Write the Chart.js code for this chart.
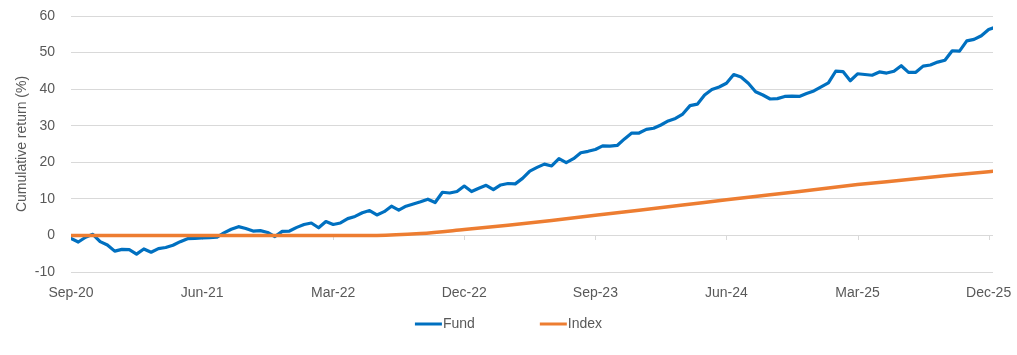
<!DOCTYPE html>
<html><head><meta charset="utf-8">
<script src="https://cdn.jsdelivr.net/npm/chart.js@4.4.1/dist/chart.umd.min.js"></script>
<style>html,body{margin:0;padding:0;background:#fff;} #wrap{width:1017px;height:355px;}</style>
</head><body><div id="wrap"><canvas id="c" width="1017" height="355"></canvas></div>
<script>
// ---- data ----
const xTickLabels = ['Sep-20','Jun-21','Mar-22','Dec-22','Sep-23','Jun-24','Mar-25','Dec-25'];
const xTickMonths = [0, 9, 18, 27, 36, 45, 54, 63];   // months since Sep-20
const yTicks = [-10, 0, 10, 20, 30, 40, 50, 60];
const seriesNames = ['Fund', 'Index'];
// Fund: cumulative return, one reading every half month starting Sep-20
const fundStepMonths = 0.5;
const fundValues = [
  -0.8, -1.8, -0.5, 0.3, -1.7, -2.6, -4.3, -3.8, -3.9, -5.1,
  -3.7, -4.6, -3.6, -3.3, -2.7, -1.7, -0.9, -0.8, -0.7, -0.6,
  -0.5, 0.7, 1.7, 2.4, 1.9, 1.2, 1.3, 0.8, -0.3, 1.1,
  1.2, 2.2, 3.0, 3.4, 2.1, 3.8, 3.0, 3.4, 4.6, 5.2,
  6.2, 6.8, 5.6, 6.5, 8.0, 6.9, 8.0, 8.6, 9.2, 9.9,
  9.0, 11.8, 11.6, 12.0, 13.5, 12.0, 12.9, 13.7, 12.5, 13.8,
  14.2, 14.1, 15.6, 17.6, 18.6, 19.5, 19.0, 21.0, 19.9, 21.0,
  22.6, 23.0, 23.5, 24.5, 24.4, 24.6, 26.4, 28.0, 28.0, 29.0,
  29.3, 30.2, 31.3, 32.0, 33.2, 35.5, 35.9, 38.4, 39.9, 40.6,
  41.6, 44.0, 43.3, 41.6, 39.3, 38.4, 37.3, 37.4, 38.0, 38.1,
  38.0, 38.8, 39.5, 40.6, 41.7, 44.9, 44.8, 42.3, 44.2, 44.0,
  43.8, 44.7, 44.4, 44.9, 46.4, 44.6, 44.6, 46.3, 46.6, 47.4,
  47.9, 50.5, 50.4, 53.2, 53.6, 54.6, 56.3, 57.0
];
// Index: smooth curve
const indexMonths = [0, 21, 24, 27, 30, 33, 36, 39, 42, 45, 48, 51, 54, 57, 60, 63, 63.5];
const indexValues = [0, 0, 0.5, 1.6, 2.8, 4.1, 5.5, 6.9, 8.3, 9.75, 11.1, 12.5, 13.9, 15.1, 16.3, 17.4, 17.6];

// ---- styling ----
const FONT = {family: '"Liberation Sans", Arial, sans-serif', size: 14};
const TEXT = '#595959';
const GRID = '#D9D9D9';
const CLEAR = 'rgba(0,0,0,0)';
const COLORS = ['#0070C0', '#ED7D31'];

const fundData = fundValues.map((v, i) => ({x: i * fundStepMonths, y: v}));
const indexData = indexMonths.map((m, i) => ({x: m, y: indexValues[i]}));

const zeroTicks = {
  id: 'zeroTicks',
  beforeDatasetsDraw(chart) {
    const {ctx, scales: {x, y}} = chart;
    const y0 = Math.round(y.getPixelForValue(0));
    ctx.save();
    ctx.strokeStyle = GRID; ctx.lineWidth = 1;
    xTickMonths.forEach(m => {
      const px = Math.round(x.getPixelForValue(m)) + 0.5;
      ctx.beginPath(); ctx.moveTo(px, y0); ctx.lineTo(px, y0 + 5); ctx.stroke();
    });
    ctx.restore();
  }
};

const customLegend = {
  id: 'customLegend',
  afterDraw(chart) {
    const {ctx} = chart;
    ctx.save();
    ctx.font = `${FONT.size}px ${FONT.family}`;
    const lineW = 27, textGap = 1, itemGap = 65;
    const ds = chart.data.datasets;
    const widths = ds.map(d => lineW + textGap + ctx.measureText(d.label).width);
    const total = widths.reduce((a, b) => a + b, 0) + itemGap * (ds.length - 1);
    let cx = chart.width / 2 - total / 2;
    const cy = chart.chartArea.bottom + 52;
    ds.forEach((d, i) => {
      ctx.strokeStyle = d.borderColor; ctx.lineWidth = 3;
      ctx.beginPath(); ctx.moveTo(cx, cy); ctx.lineTo(cx + lineW, cy); ctx.stroke();
      ctx.fillStyle = TEXT; ctx.textBaseline = 'middle'; ctx.textAlign = 'left';
      ctx.fillText(d.label, cx + lineW + textGap, cy);
      cx += widths[i] + itemGap;
    });
    ctx.restore();
  }
};

new Chart(document.getElementById('c'), {
  type: 'line',
  data: {
    datasets: [
      {label: seriesNames[0], data: fundData, borderColor: COLORS[0], backgroundColor: COLORS[0],
       borderWidth: 3.2, pointRadius: 0, tension: 0, order: 2, borderJoinStyle: 'round', borderCapStyle: 'round'},
      {label: seriesNames[1], data: indexData, borderColor: COLORS[1], backgroundColor: COLORS[1],
       borderWidth: 3.5, pointRadius: 0, cubicInterpolationMode: 'monotone', order: 1}
    ]
  },
  options: {
    responsive: false, animation: false,
    layout: {padding: {left: 14, top: 16, right: 24, bottom: 49}},
    plugins: {legend: {display: false}, tooltip: {enabled: false}},
    scales: {
      x: {
        type: 'linear', min: 0, max: 63.3,
        grid: {display: true, drawOnChartArea: false, drawTicks: true, tickLength: 13, tickColor: CLEAR, color: CLEAR},
        border: {display: false},
        afterBuildTicks: s => { s.ticks = xTickMonths.map(v => ({value: v})); },
        ticks: {autoSkip: false, maxRotation: 0, padding: 0, color: TEXT, font: FONT,
          callback: v => { const i = xTickMonths.indexOf(v); return i >= 0 ? xTickLabels[i] : ''; }},
        afterFit: s => { s.height = 34; }
      },
      y: {
        min: yTicks[0], max: yTicks[yTicks.length - 1],
        afterBuildTicks: s => { s.ticks = yTicks.map(v => ({value: v})); },
        ticks: {padding: 0, color: TEXT, font: FONT},
        grid: {color: GRID, drawTicks: true, tickLength: 16, tickColor: CLEAR, lineWidth: 1},
        border: {display: false},
        title: {display: true, text: 'Cumulative return (%)', color: TEXT, font: FONT, padding: 0},
        afterFit: s => { s.width = 57; }
      }
    }
  },
  plugins: [zeroTicks, customLegend]
});
</script>
</body></html>
